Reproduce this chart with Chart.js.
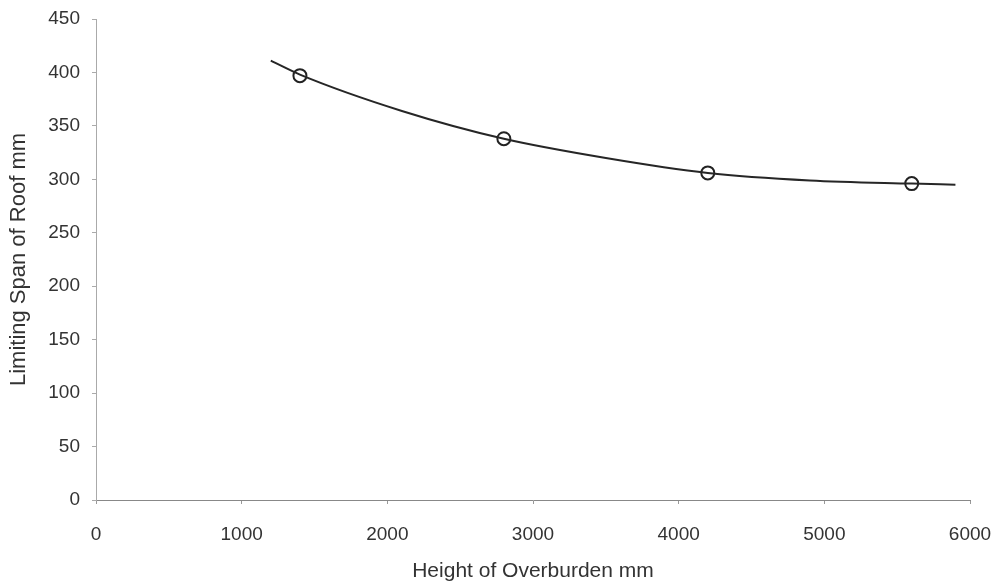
<!DOCTYPE html>
<html>
<head>
<meta charset="utf-8">
<title>Limiting Span of Roof</title>
<script src="https://cdn.jsdelivr.net/npm/chart.js@4/dist/chart.umd.min.js"></script>
<style>
    body { margin: 0; background: #fff; }
    #wrap { width: 998px; height: 588px; }
</style>
</head>
<body>
<div id="wrap"><canvas id="spanChart" width="998" height="588"></canvas></div>
<script>
// measured points (height of overburden mm -> limiting span mm)
const heights = [1400, 2800, 4200, 5600];
const spans = [397, 338, 306, 296];

// trend line
const trendHeights = [1200, 1400, 2100, 2800, 3500, 4200, 4900, 5600, 5900];
const trendSpans = [411, 398, 364, 338, 320, 306, 299, 296, 295];

const xTicks = [0, 1000, 2000, 3000, 4000, 5000, 6000];
const yTicks = [0, 50, 100, 150, 200, 250, 300, 350, 400, 450];

const font = "'Liberation Sans', Arial, sans-serif";
const textColor = '#333';

var ctx = document.getElementById('spanChart').getContext('2d');
var spanChart = new Chart(ctx, {
    type: 'scatter',
    data: {
        datasets: [{
            label: 'Trend',
            data: trendHeights.map((h, i) => ({x: h, y: trendSpans[i]})),
            showLine: true,
            borderColor: '#262626',
            borderWidth: 2,
            pointRadius: 0,
            cubicInterpolationMode: 'monotone',
            fill: false
        }, {
            label: 'Measured',
            data: heights.map((h, i) => ({x: h, y: spans[i]})),
            showLine: false,
            pointStyle: 'circle',
            pointRadius: 6.5,
            pointBorderWidth: 2,
            pointBorderColor: '#222',
            pointBackgroundColor: 'rgba(0,0,0,0)'
        }]
    },
    options: {
        responsive: false,
        animation: false,
        layout: { padding: { top: 19, right: 28, bottom: 0, left: 0 } },
        plugins: {
            legend: { display: false },
            tooltip: { enabled: false }
        },
        scales: {
            x: {
                type: 'linear',
                min: 0,
                max: 6000,
                afterBuildTicks: scale => { scale.ticks = xTicks.map(v => ({value: v})); },
                afterFit: scale => {
                    scale.height = 88;
                    scale.paddingLeft = 0;
                    scale.paddingRight = 0;
                },
                ticks: {
                    color: textColor,
                    font: { family: font, size: 19 },
                    padding: 19,
                    maxRotation: 0,
                    callback: v => String(v)
                },
                grid: { display: true, drawOnChartArea: false, drawTicks: true, tickLength: 4, color: '#999' },
                border: { display: true, color: '#888', width: 1 },
                title: {
                    display: true,
                    text: 'Height of Overburden mm',
                    color: textColor,
                    font: { family: font, size: 21 },
                    padding: { top: 0, bottom: 4 }
                }
            },
            y: {
                type: 'linear',
                min: 0,
                max: 450,
                afterBuildTicks: scale => { scale.ticks = yTicks.map(v => ({value: v})); },
                afterFit: scale => {
                    scale.width = 96;
                    scale.paddingTop = 0;
                    scale.paddingBottom = 0;
                },
                ticks: {
                    color: textColor,
                    font: { family: font, size: 19 },
                    padding: 12,
                    callback: v => String(v)
                },
                grid: { display: true, drawOnChartArea: false, drawTicks: true, tickLength: 4, color: '#aaa' },
                border: { display: true, color: '#aaa', width: 1 },
                title: {
                    display: true,
                    text: 'Limiting Span of Roof mm',
                    color: textColor,
                    font: { family: font, size: 22 },
                    padding: { top: 6, bottom: 0 }
                }
            }
        }
    }
});
</script>
</body>
</html>
